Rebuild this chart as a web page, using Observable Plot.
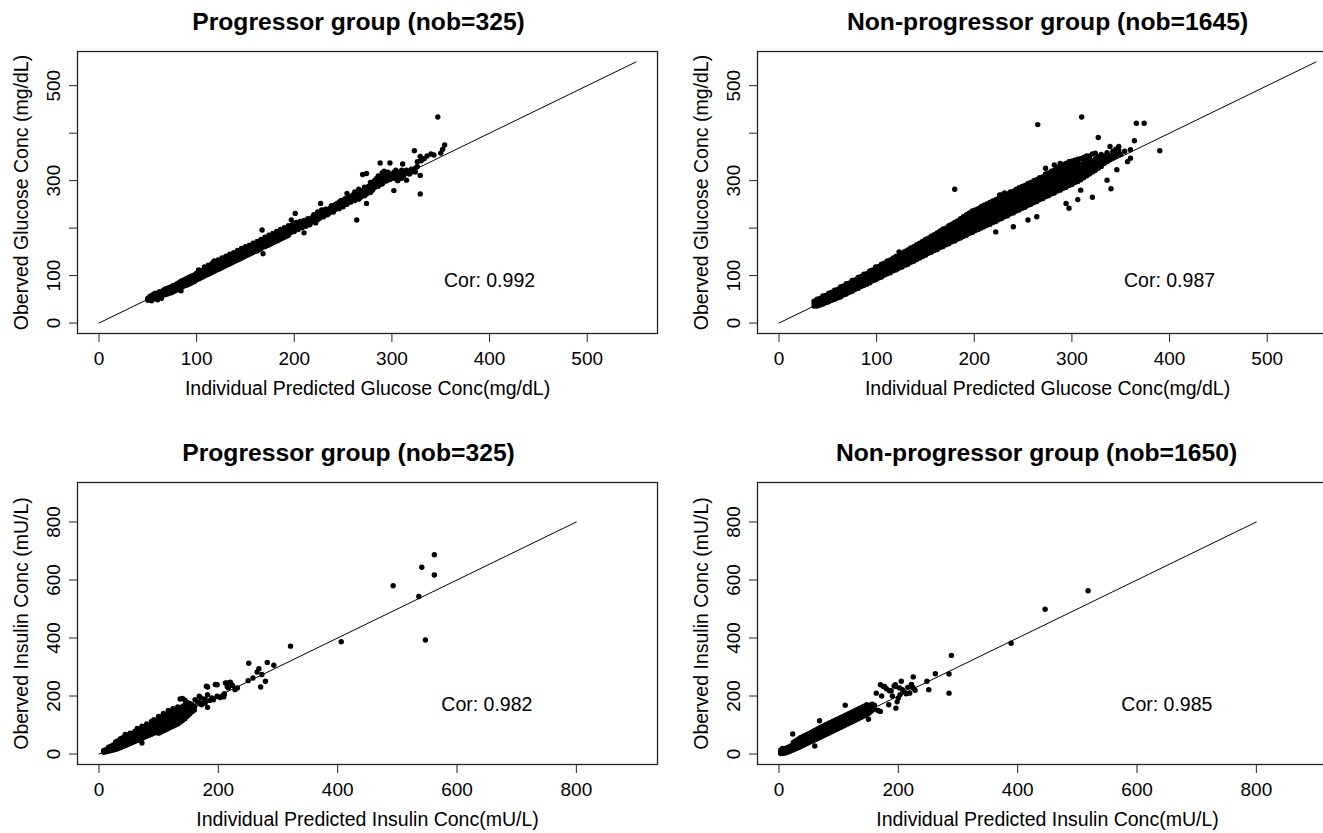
<!DOCTYPE html>
<html>
<head>
<meta charset="utf-8">
<script src="https://cdn.jsdelivr.net/npm/d3@7"></script>
<script src="https://cdn.jsdelivr.net/npm/@observablehq/plot@0.6"></script>
<style>
  html, body { margin: 0; padding: 0; background: #fff; overflow: hidden; }
  body { width: 1323px; height: 833px; }
  #wrap { position: relative; width: 1362px; height: 862px; }
  .panel { position: absolute; }
</style>
</head>
<body>
<div id="wrap"></div>
<script>
// ---------- tick values / domains ----------
const glucoseTicks = [0, 100, 200, 300, 400, 500];
const glucoseTickLabels = [0, 100, 300, 500];
const insulinTicks = [0, 200, 400, 600, 800];
const insulinTickLabels = [0, 200, 400, 600, 800];
const glucoseDomain = [-22, 572];
const insulinDomain = [-36, 936];
const glucoseIdentity = [0, 550];
const insulinIdentity = [0, 800];

// ---------- texts ----------
const titles = [
  "Progressor group (nob=325)",
  "Non-progressor group (nob=1645)",
  "Progressor group (nob=325)",
  "Non-progressor group (nob=1650)"
];
const xLabels = [
  "Individual Predicted Glucose Conc(mg/dL)",
  "Individual Predicted Insulin Conc(mU/L)"
];
const yLabels = [
  "Oberved Glucose Conc (mg/dL)",
  "Oberved Insulin Conc (mU/L)"
];
const corGlucoseProg = [{x: 400, y: 90, label: "Cor: 0.992"}];
const corGlucoseNon = [{x: 400, y: 90, label: "Cor: 0.987"}];
const corInsulinProg = [{x: 650, y: 170, label: "Cor: 0.982"}];
const corInsulinNon = [{x: 650, y: 170, label: "Cor: 0.985"}];

// ---------- observed points: rows of [predicted, observed, observed, ...] ----------
const glucoseProg = [
[50,48,52],[52,50,56],[54,47,53,58],[56,51,57,61],[58,52,56,63],[60,49,55,61],[62,56,61,66],[64,52,59,64],
[66,59,64,69],[68,60,66,72],[70,61,67,73],[72,63,69,75],[74,64,70,76],[76,66,72,79],[78,68,74,80],[80,70,76,83],
[82,72,78,85],[84,68,75,81,88],[86,77,83,90],[88,79,85,92],[90,80,87,94],[92,82,89,96],[94,84,91,98],[96,86,93,100],
[98,88,95,102],[100,91,98,105],[102,93,100,107,112],[104,95,102,109],[106,97,104,111],[108,99,106,113,118],
[110,101,108,115],[112,103,110,117,122],[114,105,112,119],[116,107,114,121,126],[118,109,116,123,131],[120,111,118,125],
[122,113,120,127,133],[124,115,122,129],[126,117,124,131,137],[128,119,126,133],[130,121,128,135,141],[132,123,130,137],
[134,125,132,139,145],[136,127,134,141],[138,129,136,143,148],[140,131,138,145],[142,133,140,147,153],[144,135,142,149],
[146,137,144,151,157],[148,139,146,153],[150,141,148,155,161],[152,143,150,157],[154,145,152,159,164],[156,147,154,161],
[158,149,156,163,168],[160,151,158,165],[162,152,160,167,172],[164,155,162,169],[166,157,164,171,176],[167,196],
[168,146,160,167,174],[170,161,168,175,181],[172,163,170,177],[174,165,172,179,185],[176,167,174,181],
[178,169,176,183,189],[180,171,178,185],[182,173,180,187,193],[184,175,182,189],[186,177,184,191,197],[188,179,186,193],
[190,181,188,195,201],[192,183,190,197],[194,185,192,199,205],[196,190,199],[197,217],[198,195,207],[200,201,193],
[201,231],[202,206,199,212],[204,197,208],[206,203,214],[208,210,201],[210,190,206,216],[212,212,204],[214,209,220],
[216,215,207],[218,222,213],[220,218,228],[222,211,223],[224,226,218,234],[226,221,230],[227,252],[228,227,238],
[230,232,224],[232,229,240],[234,236,228],[236,241,232],[238,236,247],[240,243,234],[242,239,250],[244,246,252],
[246,241,255],[248,249,258],[250,245,254],[252,257,262],[254,250,273,259],[256,261,266],[258,255,264],[260,262,270],
[262,258,267,276],[264,217,265,271],[266,261,282,270],[268,274,265],[270,313,272,279],[272,268,286,276],
[274,252,315,281,272],[276,279,288],[278,284,296,275],[280,288,280,292],[282,285,300],[284,291,304],
[286,295,310,288],[288,337,306,298],[290,302,316,293],[292,308,320],[294,300,311],[296,306,318],[298,337,313,303],
[300,310,305],[302,279,318],[304,304,311,322],[306,300,314],[308,310,318],[310,305,322],[311,335],[312,310,318],
[315,301,316,322],[318,314,320],[320,318,324],[323,363],[324,318,326],[326,340,330],[329,351,311,272],[330,342],
[333,346],[336,352],[340,356],[343,354],[347,434],[350,358],[352,366],[354,375]
];

const glucoseNon = [
[36,36,41,46],[39,36,40,45,50],[42,38,43,48,52],[45,40,45,50,54,57],[48,43,48,53,58],[51,45,50,55,59,63],
[54,48,53,58,62,65],[57,50,55,60,65,69],[60,53,58,63,67,71],[63,55,60,65,70,76],[66,59,64,69,74,78],
[69,61,66,71,76,83],[72,65,70,75,80,84],[75,67,72,77,82,86,90],[78,71,76,81,86,91],[81,73,78,83,88,92,96],
[84,77,82,87,92,98],[87,79,84,89,94,99,103],[90,82,87,92,97,101,104],[93,85,90,95,100,105,110],
[96,89,94,99,104,108,112],[99,91,96,101,106,111,118],[102,95,100,105,110,115,119],[105,97,102,107,112,117,121,124],
[108,101,106,111,116,121,126],[111,104,109,114,119,124,128,131],[114,106,111,116,121,126,130,133],
[117,110,115,120,125,130,134,137],[120,112,117,122,127,132,137,141],[123,116,121,126,131,136,141,150],
[126,118,123,128,133,138,143,147],[129,122,127,132,137,142,147,151],[132,124,129,134,139,144,149,154],
[135,128,133,138,143,148,153,158],[138,130,135,140,145,150,155,161],[141,134,139,144,149,154,159,165],
[144,137,142,147,152,157,162,168],[147,140,145,150,155,160,166,172],[150,143,148,153,158,164,170,176],
[153,147,152,157,162,168,174,179],[156,149,154,159,165,171,177,183],[159,153,158,163,169,175,181,186],
[162,155,160,166,172,178,184,190],[165,159,164,170,176,182,188,194],[168,161,167,173,179,185,191,198],
[171,165,171,177,183,189,195,200],[174,167,173,179,185,191,198,205],[177,171,177,183,189,195,202,208],
[180,173,179,185,191,198,205,212,282],[183,177,183,189,195,202,209,215],[186,179,185,192,199,206,213,220],
[189,183,189,196,203,210,217,224],[192,185,192,199,206,213,220,228],[195,189,196,203,210,217,224,232],
[198,191,198,205,212,219,227,236],[201,195,202,209,216,223,231,238],[204,197,204,211,218,226,234,241],
[207,200,207,214,221,229,237,245],[210,203,210,217,225,233,241,248],[213,206,213,220,228,236,244,251],
[216,208,215,223,231,239,247,254],[219,212,219,227,235,243,251,257],[222,192,214,222,230,238,246,254,260],
[225,218,226,234,242,250,258,263],[228,220,228,236,244,252,260,266,270],[231,224,232,240,248,256,264,274],
[234,226,234,242,250,258,266,272],[237,230,238,246,254,262,270,276],[240,203,232,240,248,256,264,272,278],
[243,236,244,252,260,268,276,282],[246,238,246,254,262,270,278,285],[249,242,250,258,266,274,282,288],
[252,244,252,260,268,276,284,290],[255,217,248,256,264,272,280,288,294],[258,250,258,266,274,282,290,296],
[261,254,262,270,278,286,294,300],[264,224,256,264,272,280,288,296,302],[267,260,268,276,284,292,300,306],
[270,262,270,278,286,294,302,308],[273,266,274,282,290,298,306,314,326],[276,268,276,284,292,300,308,316],
[279,272,280,288,296,304,312,320],[282,274,282,290,298,306,314,322,333],[285,278,286,294,302,310,318,328],
[288,280,288,296,304,312,320,330,336],[291,284,292,300,308,316,324,334],[294,252,286,294,302,310,318,326,336],
[297,242,290,298,306,314,322,330,340],[300,292,300,308,316,324,332,341],[303,296,304,312,320,328,336,343],
[306,260,298,306,314,322,330,338,345],[309,280,302,310,318,326,334,346],[312,306,314,322,330,338,349],
[315,310,318,326,334,342,352],[318,314,322,330,338,346,352],[321,265,318,326,334,342,356],[324,322,330,338,346,358],
[327,326,334,342,350,391],[330,330,338,346,355],[333,336,344,352],[336,301,340,348,359],[339,344,352,372],[340,283],
[342,348,356,362],[345,352,360,366],[348,356,364,372],[350,355],[354,362],[357,340],[360,347,365],[364,384],
[366,421],[374,421],[390,363],[265,418],[310,434],[346,323],[226,270]
];

const insulinProg = [
[8,6,12],[12,8,15],[16,10,17,24],[20,12,19,27],[24,14,22,31],[28,16,25,34,42],[32,19,28,38,46],[36,22,32,41,53],
[40,26,35,45,56],[44,29,39,49,60,68],[48,33,43,53,63],[52,36,47,57,68,72],[56,40,50,61,71],[60,43,54,65,78],
[64,47,57,68,80,88],[68,50,61,72,84],[72,38,54,65,76,88,96],[76,58,69,80,92],[80,61,72,84,96,104],[84,65,76,88,100],
[88,68,80,92,104,112],[92,72,84,96,108,118],[96,76,88,100,112],[100,72,88,100,112,124,130],[104,76,92,104,116,128],
[108,80,96,108,120,132,140],[112,84,100,112,124,136],[116,88,104,116,128,140,150],[120,92,108,120,132,144],
[124,96,112,124,136,148,156],[128,100,116,128,140,152],[132,104,120,132,144,156,162],[136,110,124,136,148,160,190],
[140,116,128,140,152,164,192],[144,122,134,146,158,170,186],[148,130,142,154,166,178],[152,138,150,162,174],
[156,146,158,170],[160,152,164],
[161,187],[165,180],[168,176,199],[171,193],[172,170],[175,176],[178,176,190],[180,234],[182,161,205,231],[186,185],
[189,193],[192,187,191],[195,240],[198,199,239],[203,195],[206,199],[209,197],[210,205,208],[212,245],[214,245],
[215,232],[217,228,234],[220,248],[221,243],[224,236],[228,222],[232,228],[250,253],[251,313],[258,262],[265,283],
[268,294],[271,231],[273,274],[279,251],[282,316],[293,306],[321,372],[406,387],[493,580],[536,543],[541,644],
[547,393],[562,687,617]
];

const insulinNon = [
[3,2,8,14],[6,2,8,14,19],[9,3,10,17],[12,5,12,20],[15,7,15,23],[18,10,18,26],[21,12,21,29],[23,69],[24,15,24,33,40],
[27,17,27,36,44],[30,20,30,39,48],[33,23,33,42,52],[36,26,36,46,56],[39,29,39,49,59],[42,32,42,52,62],[45,35,45,55,65],
[48,38,48,58,68],[51,41,51,61,71],[54,44,54,64,74],[57,46,57,67,78],[60,28,49,60,70,81],[63,52,63,73,84],
[66,55,66,77,88],[68,115],[69,58,69,80,91],[72,61,72,83,94],[75,64,75,86,97],[78,67,78,89,100],[81,70,81,92,103],
[84,73,84,95,106],[87,76,87,98,109],[90,79,90,101,112],[93,82,93,104,115],[96,85,96,107,118],[99,88,99,110,121],
[102,91,102,113,124],[105,94,105,116,127],[108,97,108,119,130],[111,100,111,122,133,168],[114,103,114,125,136],
[117,106,117,128,139],[120,109,120,131,142],[123,112,123,134,145],[126,115,126,137,148],[129,118,129,140,151],
[132,121,132,143,154],[135,124,135,146,157],[138,127,138,149,160],[141,130,141,152,163],[144,133,144,155,166],
[147,136,147,158,170],[150,120,140,152,164],[153,145,157,168],[156,150,162,172],[160,155,168],
[163,210],[166,150],[170,147,239],[172,200],[175,233],[177,233],[180,225],[184,170],[185,218],[188,218],[190,200],
[193,235],[195,239],[196,158,233],[198,180],[200,193],[202,228],[203,205],[205,251],[207,222],[210,215],[213,208],
[216,230],[219,210],[222,240],[223,233],[225,266,228],[228,220],[248,251],[251,222],[262,277],[285,276,210],
[289,340],[389,382],[446,499],[518,563]
];

const expand = rows => rows.flatMap(([x, ...ys]) => ys.map(y => [x, y]));

const FONT = "'Liberation Sans', Arial, Helvetica, sans-serif";

function panel({rows, title, titleShift, xLabel, yLabel, domain, ticks, tickLabels, identity, cor, left, top}) {
  const chart = Plot.plot({
    width: 681,
    height: 431,
    marginLeft: 77,
    marginRight: 24,
    marginTop: 51,
    marginBottom: 98,
    x: {domain},
    y: {domain},
    style: {fontFamily: FONT, background: "white", color: "black", fontSize: "19px"},
    marks: [
      Plot.frame({stroke: "#222", strokeWidth: 1.3}),
      Plot.axisX(ticks, {tickSize: 9, tickFormat: () => "", label: null, stroke: "#222"}),
      Plot.axisY(ticks, {tickSize: 8, tickFormat: () => "", label: null, stroke: "#222"}),
      Plot.text(ticks, {x: d => d, text: d => String(d), frameAnchor: "bottom", dy: 25,
        lineAnchor: "middle", fontSize: 19, fill: "black"}),
      Plot.text(tickLabels, {y: d => d, text: d => String(d), frameAnchor: "left", dx: -24,
        rotate: -90, textAnchor: "middle", lineAnchor: "middle", fontSize: 19, fill: "black"}),
      Plot.text([xLabel], {text: d => d, frameAnchor: "bottom", dy: 55, lineAnchor: "middle",
        fontSize: 19.5, fill: "black"}),
      Plot.text([yLabel], {text: d => d, frameAnchor: "left", dx: -56, rotate: -90,
        textAnchor: "middle", lineAnchor: "middle", fontSize: 19.5, fill: "black"}),
      Plot.text([title], {text: d => d, frameAnchor: "top", dy: -29, dx: titleShift, lineAnchor: "middle",
        fontSize: 24.7, fontWeight: "bold", fill: "black"}),
      Plot.line(identity, {x: d => d, y: d => d, stroke: "black", strokeWidth: 1}),
      Plot.dot(expand(rows), {x: d => d[0], y: d => d[1], r: 2.7, fill: "black", stroke: "none"}),
      Plot.text(cor, {x: "x", y: "y", text: "label", fontSize: 19.5, fill: "black", lineAnchor: "middle"})
    ]
  });
  const div = document.createElement("div");
  div.className = "panel";
  div.style.left = left + "px";
  div.style.top = top + "px";
  div.appendChild(chart);
  document.getElementById("wrap").appendChild(div);
}

panel({rows: glucoseProg, title: titles[0], titleShift: -9, xLabel: xLabels[0], yLabel: yLabels[0], domain: glucoseDomain,
  ticks: glucoseTicks, tickLabels: glucoseTickLabels, identity: glucoseIdentity, cor: corGlucoseProg, left: 0, top: 0});
panel({rows: glucoseNon, title: titles[1], titleShift: 0, xLabel: xLabels[0], yLabel: yLabels[0], domain: glucoseDomain,
  ticks: glucoseTicks, tickLabels: glucoseTickLabels, identity: glucoseIdentity, cor: corGlucoseNon, left: 680, top: 0});
panel({rows: insulinProg, title: titles[2], titleShift: -19, xLabel: xLabels[1], yLabel: yLabels[1], domain: insulinDomain,
  ticks: insulinTicks, tickLabels: insulinTickLabels, identity: insulinIdentity, cor: corInsulinProg, left: 0, top: 431});
panel({rows: insulinNon, title: titles[3], titleShift: -11, xLabel: xLabels[1], yLabel: yLabels[1], domain: insulinDomain,
  ticks: insulinTicks, tickLabels: insulinTickLabels, identity: insulinIdentity, cor: corInsulinNon, left: 680, top: 431});
</script>
</body>
</html>
